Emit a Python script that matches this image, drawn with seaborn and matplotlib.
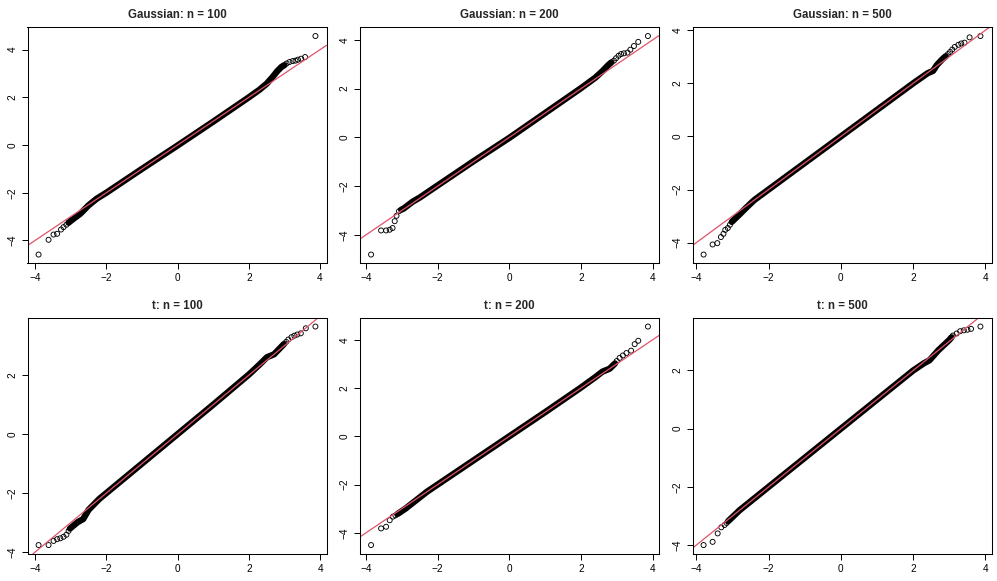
import numpy as np
import pandas as pd
import matplotlib
matplotlib.use("Agg")
import matplotlib.pyplot as plt
from matplotlib.ticker import MultipleLocator
import seaborn as sns

# ---- values (theoretical vs sample quantiles) ----
titles = ["Gaussian: n = 100", "Gaussian: n = 200", "Gaussian: n = 500",
          "t: n = 100", "t: n = 200", "t: n = 500"]

# Gaussian, n = 100
g100_lo_x = [-3.90, -3.62, -3.48, -3.38, -3.27, -3.20, -3.12, -3.06]
g100_lo_y = [-4.59, -3.97, -3.75, -3.72, -3.54, -3.44, -3.34, -3.26]
g100_band_x = [-3.05, -2.92, -2.73, -2.50, -2.27, -2.00, -1.00, 0.00, 1.00, 2.00, 2.30, 2.50, 2.65, 2.80, 2.92, 3.00]
g100_band_y = [-3.24, -3.09, -2.88, -2.53, -2.25, -2.00, -1.00, -0.02, 0.98, 2.00, 2.32, 2.57, 2.82, 3.10, 3.28, 3.35]
g100_hi_x = [3.06, 3.14, 3.23, 3.31, 3.38, 3.47, 3.58, 3.87]
g100_hi_y = [3.42, 3.48, 3.52, 3.54, 3.58, 3.62, 3.69, 4.57]

# Gaussian, n = 200
g200_lo_x = [-3.86, -3.58, -3.44, -3.34, -3.26, -3.20, -3.15, -3.08]
g200_lo_y = [-4.81, -3.82, -3.82, -3.79, -3.72, -3.44, -3.22, -3.03]
g200_band_x = [-3.02, -2.95, -2.70, -2.50, -2.20, -1.00, 0.00, 1.00, 2.00, 2.40, 2.60, 2.75, 2.85]
g200_band_y = [-2.97, -2.92, -2.64, -2.47, -2.17, -0.98, -0.02, 1.00, 2.02, 2.45, 2.72, 2.95, 3.08]
g200_hi_x = [2.92, 2.98, 3.05, 3.12, 3.20, 3.30, 3.38, 3.48, 3.60, 3.87]
g200_hi_y = [3.15, 3.25, 3.35, 3.42, 3.45, 3.48, 3.60, 3.75, 3.92, 4.16]

# Gaussian, n = 500
g500_lo_x = [-3.80, -3.55, -3.42, -3.32, -3.25, -3.20, -3.13, -3.07]
g500_lo_y = [-4.45, -4.07, -4.02, -3.79, -3.67, -3.52, -3.45, -3.33]
g500_band_x = [-3.02, -2.80, -2.60, -2.40, -1.00, 0.00, 1.00, 2.00, 2.40, 2.55, 2.65, 2.80, 2.90]
g500_band_y = [-3.22, -2.93, -2.66, -2.40, -1.00, 0.00, 1.00, 2.00, 2.38, 2.47, 2.68, 2.90, 3.02]
g500_hi_x = [2.96, 3.02, 3.08, 3.15, 3.25, 3.33, 3.42, 3.56, 3.86]
g500_hi_y = [3.10, 3.18, 3.27, 3.37, 3.45, 3.50, 3.53, 3.73, 3.78]

# t, n = 100
t100_lo_x = [-3.90, -3.62, -3.48, -3.38, -3.29, -3.20, -3.12, -3.06]
t100_lo_y = [-3.76, -3.76, -3.62, -3.56, -3.53, -3.48, -3.41, -3.28]
t100_band_x = [-3.02, -2.80, -2.65, -2.50, -2.20, -1.00, 0.00, 1.00, 2.00, 2.30, 2.50, 2.70, 2.90, 2.98]
t100_band_y = [-3.20, -2.98, -2.88, -2.57, -2.20, -1.00, 0.00, 1.00, 2.02, 2.36, 2.60, 2.70, 2.95, 3.05]
t100_hi_x = [3.04, 3.10, 3.19, 3.27, 3.35, 3.45, 3.59, 3.86]
t100_hi_y = [3.12, 3.20, 3.28, 3.33, 3.37, 3.41, 3.58, 3.64]

# t, n = 200
t200_lo_x = [-3.86, -3.58, -3.44, -3.34, -3.25, -3.18]
t200_lo_y = [-4.51, -3.82, -3.75, -3.48, -3.33, -3.28]
t200_band_x = [-3.12, -2.90, -2.60, -2.30, -1.00, 0.00, 1.00, 2.00, 2.40, 2.60, 2.80, 2.95]
t200_band_y = [-3.22, -3.00, -2.65, -2.30, -1.00, 0.00, 1.00, 2.02, 2.45, 2.68, 2.80, 3.02]
t200_hi_x = [3.00, 3.08, 3.17, 3.27, 3.40, 3.50, 3.60, 3.87]
t200_hi_y = [3.12, 3.25, 3.35, 3.45, 3.55, 3.82, 3.96, 4.55]

# t, n = 500
t500_lo_x = [-3.80, -3.55, -3.41, -3.31, -3.22, -3.16]
t500_lo_y = [-4.00, -3.89, -3.60, -3.39, -3.31, -3.24]
t500_band_x = [-3.12, -2.80, -2.50, -1.00, 0.00, 1.00, 2.00, 2.30, 2.45, 2.70, 3.00, 3.06]
t500_band_y = [-3.18, -2.80, -2.50, -1.00, 0.00, 1.00, 2.00, 2.25, 2.35, 2.70, 3.05, 3.14]
t500_hi_x = [3.10, 3.20, 3.30, 3.40, 3.50, 3.60, 3.86]
t500_hi_y = [3.20, 3.27, 3.35, 3.38, 3.40, 3.43, 3.51]

# qqline: intercept / slope for each panel
line_intercept = [0.0, 0.0, 0.0, 0.0, 0.0, 0.0]
line_slope = [1.0, 1.0, 1.0, 1.0, 1.0, 1.0]

panels = [
    (g100_lo_x, g100_lo_y, g100_band_x, g100_band_y, g100_hi_x, g100_hi_y),
    (g200_lo_x, g200_lo_y, g200_band_x, g200_band_y, g200_hi_x, g200_hi_y),
    (g500_lo_x, g500_lo_y, g500_band_x, g500_band_y, g500_hi_x, g500_hi_y),
    (t100_lo_x, t100_lo_y, t100_band_x, t100_band_y, t100_hi_x, t100_hi_y),
    (t200_lo_x, t200_lo_y, t200_band_x, t200_band_y, t200_hi_x, t200_hi_y),
    (t500_lo_x, t500_lo_y, t500_band_x, t500_band_y, t500_hi_x, t500_hi_y),
]

sns.set_style("ticks")
plt.rcParams["font.family"] = ["Liberation Sans", "DejaVu Sans"]
plt.rcParams["axes.unicode_minus"] = True

W, H = 997, 581
fig = plt.figure(figsize=(W / 100, H / 100), dpi=100)

RED = "#DF536B"
lefts = [27.5, 360.0, 692.5]
tops = [27.3, 317.8]
pw, ph = 299.0, 236.0

for i, (lo_x, lo_y, b_x, b_y, hi_x, hi_y) in enumerate(panels):
    r, c = divmod(i, 3)
    ax = fig.add_axes([lefts[c] / W, 1 - (tops[r] + ph) / H, pw / W, ph / H])

    pts = pd.DataFrame({"x": lo_x + hi_x, "y": lo_y + hi_y})
    band = pd.DataFrame({"x": b_x, "y": b_y})

    # dense central part of the QQ cloud (thousands of overlapping circles)
    sns.lineplot(data=band, x="x", y="y", ax=ax, color="black", lw=4.6,
                 sort=False, estimator=None, solid_capstyle="round",
                 solid_joinstyle="round")
    sns.scatterplot(data=pts, x="x", y="y", ax=ax, marker="o", s=13,
                    facecolor="none", edgecolor="black", linewidth=0.65)
    ax.axline((0, line_intercept[i]), slope=line_slope[i], color=RED, lw=0.9)

    # R-style 4% axis extension
    all_x = np.array(lo_x + b_x + hi_x)
    all_y = np.array(lo_y + b_y + hi_y)
    xr = all_x.max() - all_x.min()
    yr = all_y.max() - all_y.min()
    ax.set_xlim(all_x.min() - 0.04 * xr, all_x.max() + 0.04 * xr)
    ax.set_ylim(all_y.min() - 0.04 * yr, all_y.max() + 0.04 * yr)

    ax.xaxis.set_major_locator(MultipleLocator(2))
    ax.yaxis.set_major_locator(MultipleLocator(2))
    ax.set_xlabel("")
    ax.set_ylabel("")
    ax.set_title(titles[i], fontsize=8.3, fontweight="bold", pad=6.5)
    ax.tick_params(axis="both", length=4, width=0.7, labelsize=7.2,
                   pad=3.3, colors="black")
    for lab in ax.get_yticklabels():
        lab.set_rotation(90)
        lab.set_va("center")
    for sp in ax.spines.values():
        sp.set_visible(True)
        sp.set_linewidth(0.75)
        sp.set_color("black")

fig.savefig("out.png", dpi=100)
